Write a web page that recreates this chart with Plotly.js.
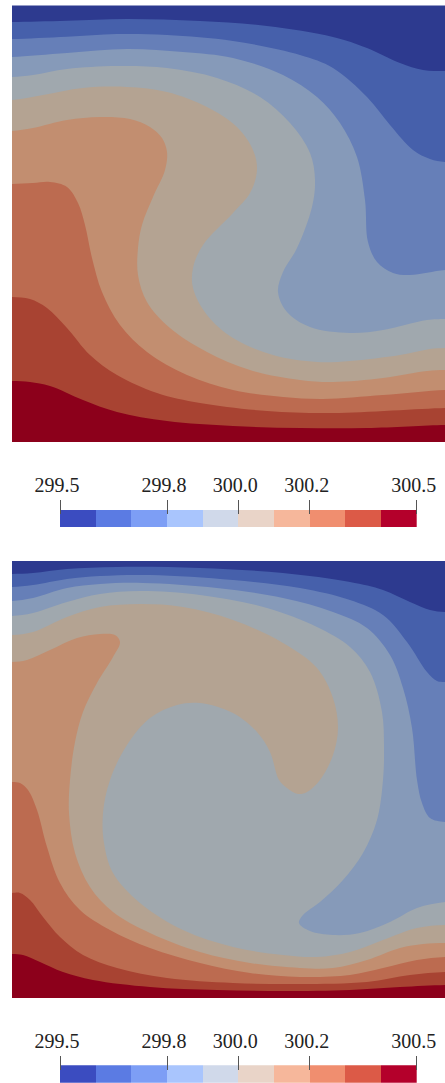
<!DOCTYPE html>
<html><head><meta charset="utf-8">
<script src="https://cdn.plot.ly/plotly-3.0.1.min.js"></script>
<style>html,body{margin:0;padding:0;background:#fff}#c{width:445px;height:1083px}</style>
</head><body><div id="c"></div>
<script>
// Contour bands, warmest side of each isoline is below/left of it.
const bandColors = ['#2d3a8f','#4660ab','#667fb8','#869ab9','#a0a8ae','#b4a392','#c28e70','#bc6b50','#a84332','#8c001b'];
const barColors = ['#3b4cc0','#5b7be3','#7d9ef5','#a9c5fd','#d0d9ea','#e9d4c8','#f6b79b','#f08e6f','#dc5a47','#b4002b'];
const barCenters = [299.55,299.65,299.75,299.85,299.95,300.05,300.15,300.25,300.35,300.45];
const tickVals = [299.5,299.8,300.0,300.2,300.5];
const tickText = ['299.5','299.8','300.0','300.2','300.5'];

// Upper panel isolines
const a1x=[12,67,127,200,267,333,367,400,423,445];
const a1y=[22,20.7,19,21,26,37,48,63,70,71];
const a2x=[12,67,117,167,233,300,333,367,390,413,430,445];
const a2y=[39,36.7,34,35,41,55,68,97,125,150,159,162];
const a3x=[12,67,127,183,233,283,317,340,357,365,368,377,393,410,445];
const a3y=[57,53,49,52,58,75,97,123,157,200,242,262,273,275,270];
const a4x=[12,33,67,117,167,217,260,290,310,315,312,297,283,278,287,310,350,383,427,445];
const a4y=[77,75,69,66,68,78,97,123,153,180,207,248,272,292,312,327,333,330,320,319];
const a5x=[12,43,83,127,167,207,237,253,257,250,233,203,193,193,207,233,273,317,350,400,430,445];
const a5y=[100,95,88,87,92,107,127,150,170,193,213,245,268,288,315,338,355,362,361,355,349,348];
const a6x=[12,33,67,100,130,150,162,167,165,153,142,138,138,147,170,207,250,300,333,383,427,445];
const a6y=[131,128,120,117,119,127,138,152,170,197,225,248,275,302,328,352,370,380,382,378,371,370];
const a7x=[12,33,50,67,78,85,92,102,120,147,187,233,283,323,383,445];
const a7y=[184,183,182,187,203,225,258,292,325,352,375,390,397,399,395,390];
const a8x=[12,30,47,67,90,117,157,200,267,333,445];
const a8y=[297,299,308,328,355,375,393,403,411,413,408];
const a9x=[12,30,50,83,117,167,233,300,367,445];
const a9y=[381,382,386,400,412,421,426,428,428,425];

// Lower panel isolines
const b1x=[12,33,67,117,200,283,350,383,410,430,445];
const b1y=[574,573,569,567,568,573,582,590,602,610,612];
const b2x=[12,33,67,100,150,233,300,350,383,407,427,437,445];
const b2y=[587,585,579,576,575,580,588,600,615,642,672,681,682];
const b3x=[12,33,67,100,143,217,283,333,367,390,403,412,417,422,430,445];
const b3y=[601,598,588,584,583,588,598,612,628,655,688,728,780,803,818,822];
const b4x=[12,33,67,100,140,200,267,317,350,370,382,384,383,377,363,343,320,303,299,310,333,360,390,417,445];
const b4y=[616,613,602,594,591,595,608,627,647,672,712,748,780,820,853,880,902,915,923,931,935,933,922,908,902];
const b5x=[12,33,67,100,140,183,233,283,317,333,338,333,320,307,298,287,279,270,257,233,200,177,150,127,110,103,104,113,140,183,233,283,317,350,383,417,445];
const b5y=[635,632,617,607,604,607,620,643,668,698,728,755,780,792,794,788,780,752,732,713,703,705,718,745,780,813,843,873,903,930,947,955,957,952,940,928,925];
const b6x=[12,27,50,77,100,115,120,113,97,83,75,70,69,75,90,113,150,200,250,300,333,367,400,423,445];
const b6y=[662,660,650,638,634,635,642,657,683,712,742,780,813,853,887,912,933,952,963,968,968,960,948,944,943];
const b7x=[12,20,28,37,47,60,80,110,150,200,250,300,350,383,417,445];
const b7y=[782,783,790,810,847,883,910,930,948,963,973,977,975,968,960,957];
const b8x=[12,20,30,43,60,83,117,167,233,300,367,410,445];
const b8y=[893,893,900,917,937,955,968,978,983,984,982,975,972];
const b9x=[12,23,40,63,93,150,217,283,350,400,445];
const b9y=[954,955,962,972,980,987,990,991,990,987,985];

const W=445,H=1083;
const panels=[
 {xa:'x',ya:'y',top:5.5,bottom:442,curves:[[a1x,a1y],[a2x,a2y],[a3x,a3y],[a4x,a4y],[a5x,a5y],[a6x,a6y],[a7x,a7y],[a8x,a8y],[a9x,a9y]]},
 {xa:'x2',ya:'y2',top:561,bottom:998,curves:[[b1x,b1y],[b2x,b2y],[b3x,b3y],[b4x,b4y],[b5x,b5y],[b6x,b6y],[b7x,b7y],[b8x,b8y],[b9x,b9y]]}
];
const traces=[];
panels.forEach(p=>{
  const L=-60,R=540,B=p.bottom+200,T=p.top-200;
  traces.push({type:'scatter',mode:'lines',xaxis:p.xa,yaxis:p.ya,x:[L,R,R,L,L],y:[T,T,B,B,T],fill:'toself',fillcolor:bandColors[0],line:{width:0},hoverinfo:'skip'});
  p.curves.forEach((c,i)=>{
    const [cx,cy]=c, y0=cy[0], yn=cy[cy.length-1];
    traces.push({type:'scatter',mode:'lines',xaxis:p.xa,yaxis:p.ya,
      x:[L,-10,...cx,470,R,R,L,L],
      y:[y0,y0,...cy,yn,yn,B,B,y0],
      fill:'toself',fillcolor:bandColors[i+1],
      line:{width:0,shape:'spline',smoothing:1,simplify:false},hoverinfo:'skip'});
  });
});
[['x3','y3'],['x4','y4']].forEach(([xa,ya])=>{
  traces.push({type:'bar',xaxis:xa,yaxis:ya,x:barCenters,y:barCenters.map(()=>1),width:barCenters.map(()=>0.1),
    marker:{color:barColors,line:{width:0}},hoverinfo:'skip'});
});
const hidden={visible:false,fixedrange:true,showgrid:false,zeroline:false};
const dom=(t,b)=>[1-b/H,1-t/H];
function cbAxis(pos){
  return {domain:[60/W,416.7/W],range:[299.5,300.5],anchor:'free',position:pos,side:'top',
    tickmode:'array',tickvals:tickVals,ticktext:tickText,ticks:'outside',ticklen:14,tickwidth:1,tickcolor:'#555',
    tickfont:{family:'"Liberation Serif",serif',size:20,color:'#222'},ticklabelshift:-3,ticklabelstandoff:0,
    showgrid:false,zeroline:false,showline:false,fixedrange:true};
}
const layout={width:W,height:H,margin:{l:0,r:0,t:0,b:0},paper_bgcolor:'#fff',plot_bgcolor:'rgba(0,0,0,0)',showlegend:false,bargap:0,
  xaxis:{...hidden,domain:[12/W,1],range:[12,445],anchor:'y'},
  yaxis:{...hidden,domain:dom(5.5,442),range:[442,5.5],anchor:'x'},
  xaxis2:{...hidden,domain:[12/W,1],range:[12,445],anchor:'y2'},
  yaxis2:{...hidden,domain:dom(561,998),range:[998,561],anchor:'x2'},
  xaxis3:cbAxis(1-514/H),
  yaxis3:{...hidden,domain:dom(509.5,527),range:[0,1],anchor:'x3'},
  xaxis4:cbAxis(1-1070/H),
  yaxis4:{...hidden,domain:dom(1065.3,1082.7),range:[0,1],anchor:'x4'}
};
Plotly.newPlot('c',traces,layout,{displayModeBar:false,staticPlot:true});
</script></body></html>
